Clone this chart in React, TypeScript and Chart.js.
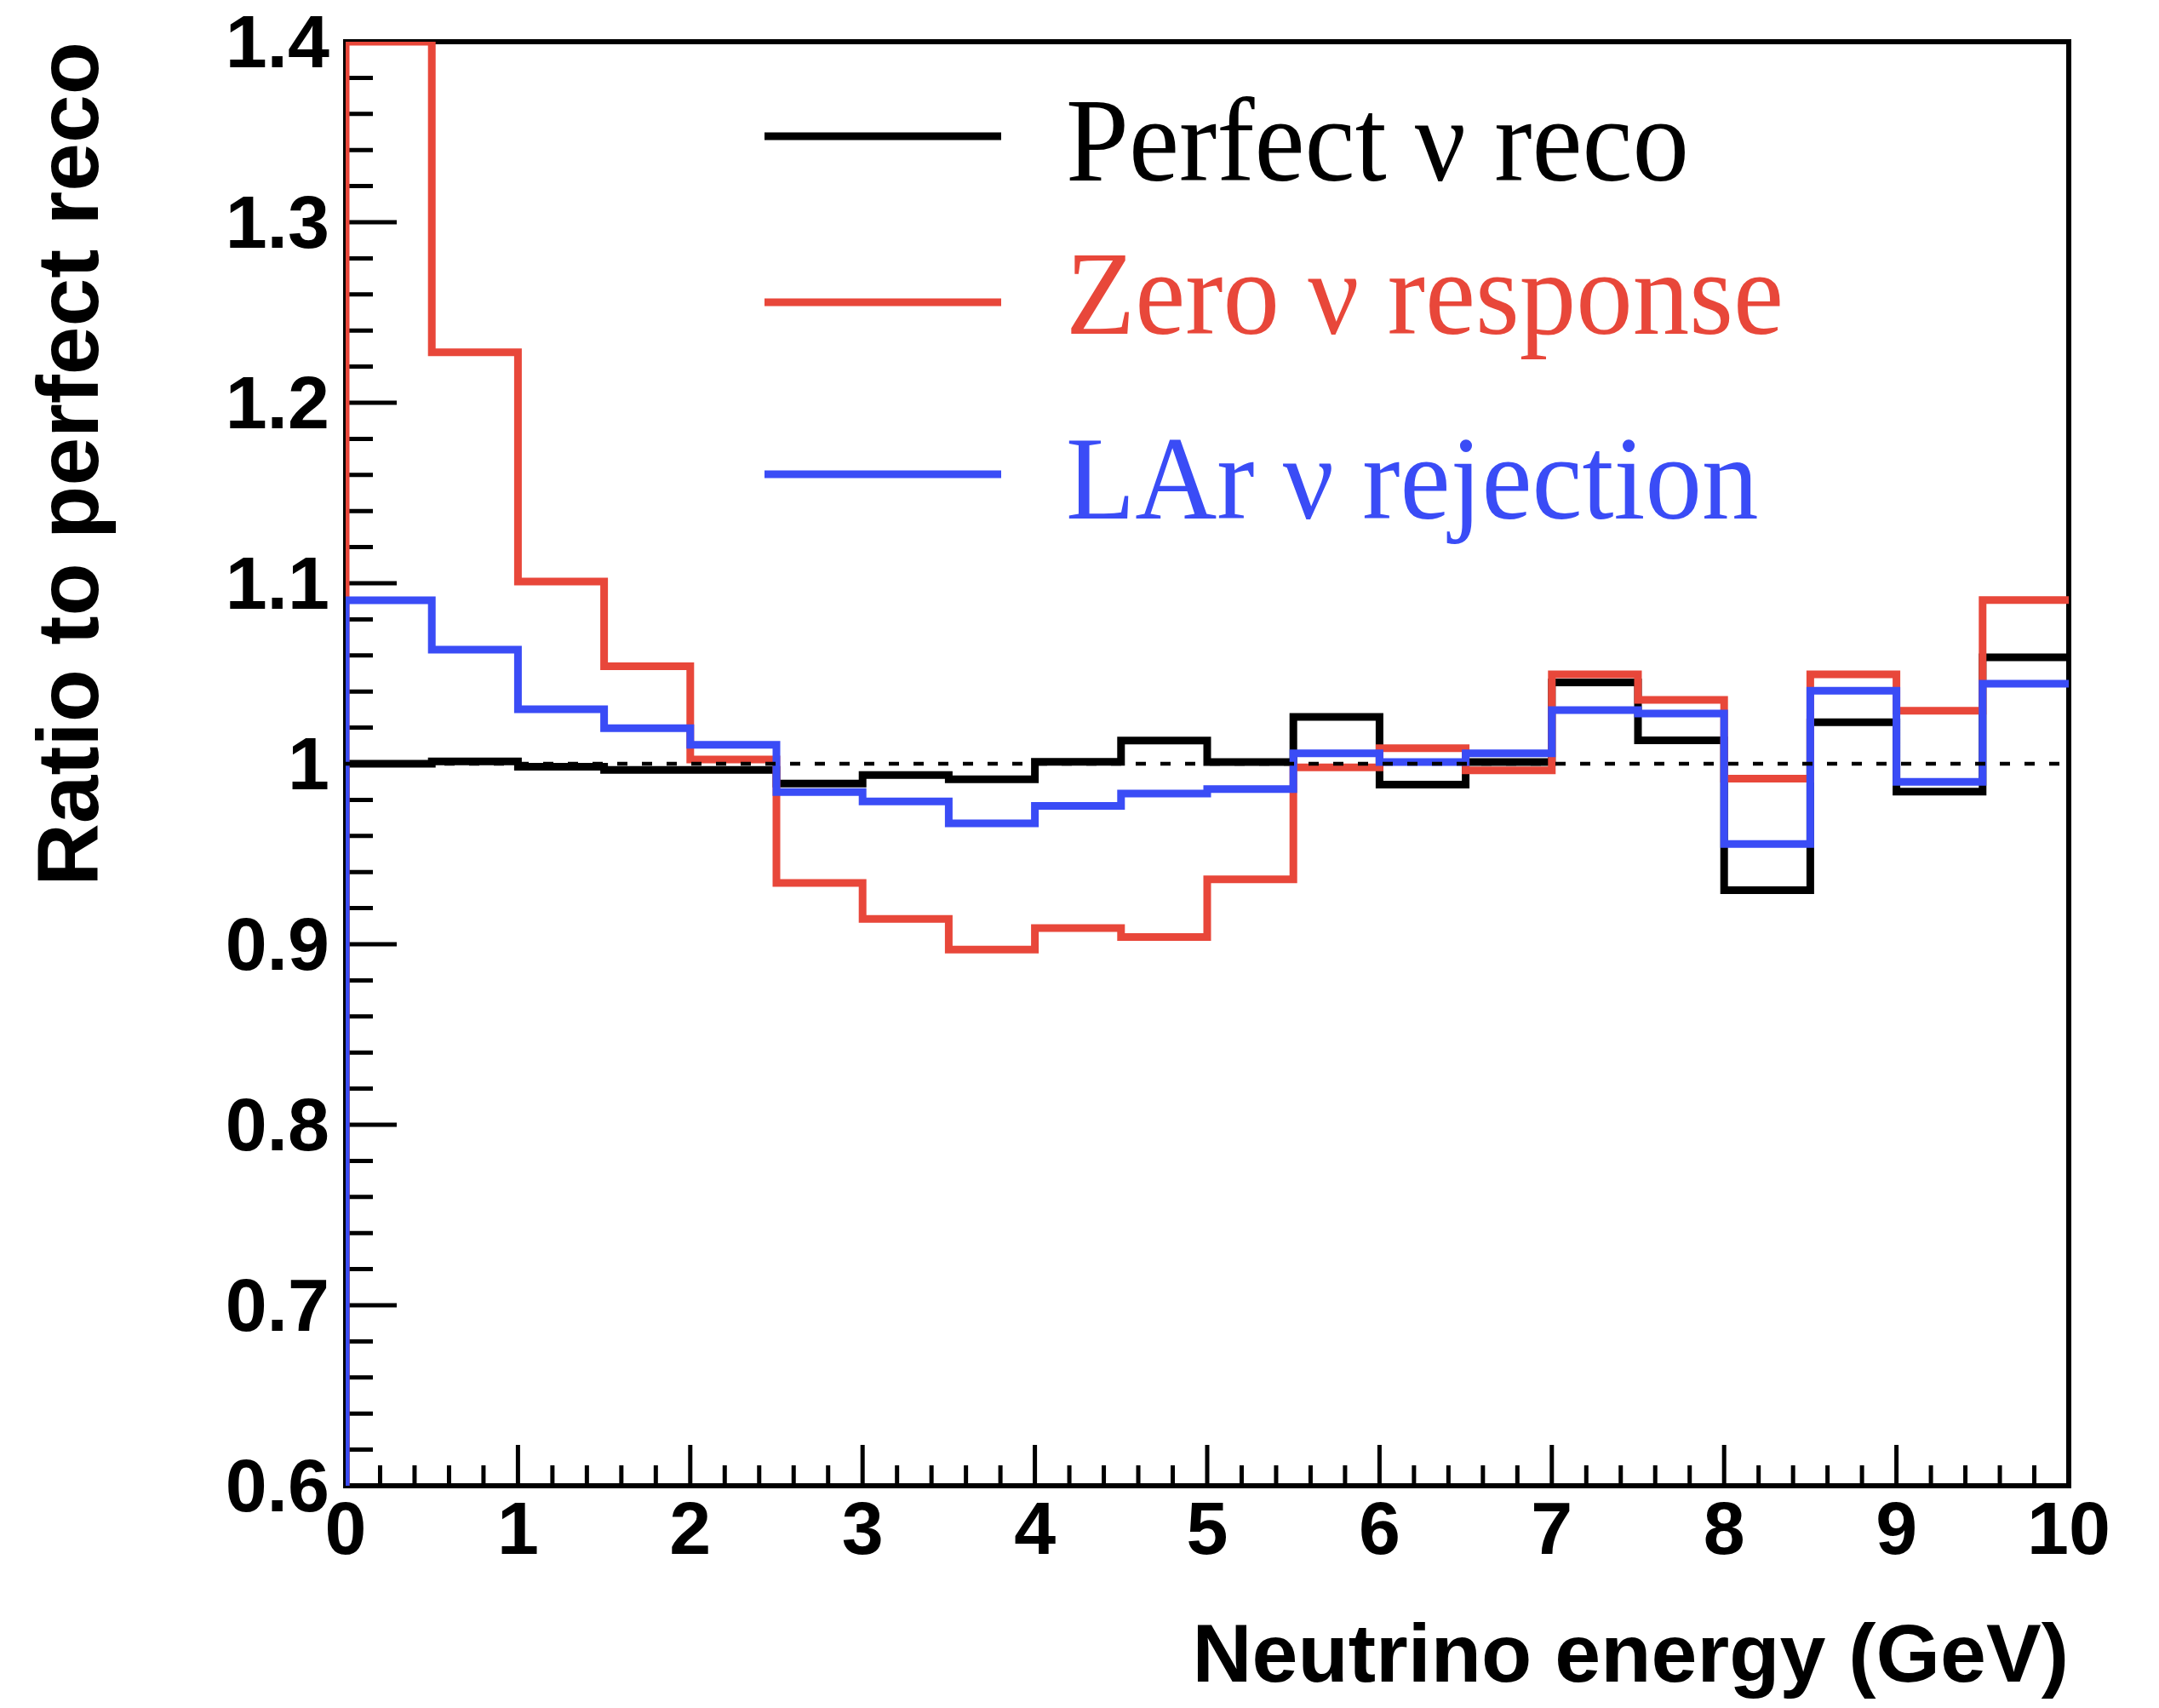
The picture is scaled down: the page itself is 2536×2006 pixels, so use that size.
import React, { useEffect, useRef } from "react";
import { Chart, registerables } from "chart.js";

Chart.register(...registerables);

// Energy binning (GeV): lower edges of the 0.5 GeV bins, plus the last upper edge
const binLowEdges = [0, 0.5, 1, 1.5, 2, 2.5, 3, 3.5, 4, 4.5, 5, 5.5, 6, 6.5, 7, 7.5, 8, 8.5, 9, 9.5];
const binUpperEdge = 10;

// Ratio to perfect reconstruction, one value per bin
const perfectReco = [
  1.0, 1.0013, 0.9984, 0.9966, 0.9966, 0.989, 0.9937, 0.9914, 1.0011, 1.0128,
  1.001, 1.026, 0.9885, 1.001, 1.045, 1.013, 0.93, 1.023, 0.9846, 1.059,
];
const zeroResponse = [
  1.4, 1.228, 1.101, 1.054, 1.0024, 0.934, 0.914, 0.897, 0.909, 0.904,
  0.936, 0.998, 1.0086, 0.9964, 1.0495, 1.0354, 0.9917, 1.0495, 1.0294, 1.0907,
];
const larRejection = [
  1.0906, 1.0632, 1.0302, 1.0197, 1.0105, 0.9843, 0.9791, 0.967, 0.9767, 0.9835,
  0.986, 1.0058, 1.001, 1.0058, 1.0297, 1.0278, 0.9555, 1.0404, 0.99, 1.0443,
];

const seriesNames = ["Perfect \u03bd reco", "Zero \u03bd response", "LAr \u03bd rejection"];
const seriesColors = ["#000000", "#e8473a", "#3a4cf6"];

// Axes
const xMin = 0;
const xMax = 10;
const yMin = 0.6;
const yMax = 1.4;
const referenceLevel = 1;
const xTickValues = [0, 1, 2, 3, 4, 5, 6, 7, 8, 9, 10];
const xTickLabels = ["0", "1", "2", "3", "4", "5", "6", "7", "8", "9", "10"];
const yTickValues = [0.6, 0.7, 0.8, 0.9, 1.0, 1.1, 1.2, 1.3, 1.4];
const yTickLabels = ["0.6", "0.7", "0.8", "0.9", "1", "1.1", "1.2", "1.3", "1.4"];
const xMinorStep = 0.2;
const yMinorStep = 0.02;

const xTitle = "Neutrino energy (GeV)";
const yTitle = "Ratio to perfect reco";

const SANS = "'Liberation Sans', Arial, Helvetica, sans-serif";
const SERIF = "'Liberation Serif', 'Times New Roman', serif";

// Histogram outline: rise from the axis floor, then one step per bin
function histPoints(values: number[]) {
  const pts = [{ x: binLowEdges[0], y: yMin }];
  values.forEach((v, i) => pts.push({ x: binLowEdges[i], y: v }));
  pts.push({ x: binUpperEdge, y: values[values.length - 1] });
  return pts;
}

// Frame with inward-pointing major and minor ticks
const frameTicks = {
  id: "frameTicks",
  beforeDatasetsDraw(chart: any) {
    const { ctx, chartArea: a, scales } = chart;
    const xs = scales.x;
    const ys = scales.y;
    ctx.save();
    ctx.strokeStyle = "#000";
    ctx.lineWidth = 5;
    ctx.lineCap = "butt";
    ctx.beginPath();
    const nx = Math.round((xMax - xMin) / xMinorStep);
    for (let i = 0; i <= nx; i++) {
      const v = xMin + i * xMinorStep;
      const px = xs.getPixelForValue(v);
      const major = i % 5 === 0;
      ctx.moveTo(px, a.bottom);
      ctx.lineTo(px, a.bottom - (major ? 48 : 24));
    }
    const ny = Math.round((yMax - yMin) / yMinorStep);
    for (let i = 0; i <= ny; i++) {
      const v = yMin + i * yMinorStep;
      const py = ys.getPixelForValue(v);
      const major = i % 5 === 0;
      ctx.moveTo(a.left, py);
      ctx.lineTo(a.left + (major ? 60 : 32), py);
    }
    ctx.stroke();
    ctx.lineWidth = 6;
    ctx.strokeRect(a.left, a.top, a.right - a.left, a.bottom - a.top);
    ctx.restore();
  },
};

// Legend box in the upper part of the frame
const histLegend = {
  id: "histLegend",
  afterDatasetsDraw(chart: any) {
    const { ctx, chartArea: a } = chart;
    const lineX0 = a.left + 492;
    const lineX1 = a.left + 770;
    const textX = a.left + 846;
    const lineY = [111, 306, 508];
    const baseY = [163, 343, 560];
    ctx.save();
    seriesNames.forEach((name, i) => {
      ctx.strokeStyle = seriesColors[i];
      ctx.lineWidth = 9;
      ctx.beginPath();
      ctx.moveTo(lineX0, a.top + lineY[i]);
      ctx.lineTo(lineX1, a.top + lineY[i]);
      ctx.stroke();
      ctx.save();
      ctx.translate(textX, a.top + baseY[i]);
      ctx.scale(0.95, 1);
      ctx.fillStyle = seriesColors[i];
      ctx.font = `140px ${SERIF}`;
      ctx.textAlign = "left";
      ctx.textBaseline = "alphabetic";
      ctx.fillText(name, 0, 0);
      ctx.restore();
    });
    ctx.restore();
  },
};

function clearScalePadding(scale: any) {
  scale.paddingTop = 0;
  scale.paddingBottom = 0;
  scale.paddingLeft = 0;
  scale.paddingRight = 0;
}

export default function App() {
  const canvasRef = useRef<HTMLCanvasElement | null>(null);

  useEffect(() => {
    document.body.style.margin = "0";
    const canvas = canvasRef.current;
    if (!canvas) return;

    const histDataset = (label: string, values: number[], color: string, order: number) => ({
      label,
      data: histPoints(values),
      borderColor: color,
      backgroundColor: color,
      borderWidth: 9,
      stepped: true,
      pointRadius: 0,
      pointHoverRadius: 0,
      fill: false,
      order,
    });

    const chart = new Chart(canvas, {
      type: "line",
      data: {
        datasets: [
          {
            label: "reference",
            data: [
              { x: xMin, y: referenceLevel },
              { x: xMax, y: referenceLevel },
            ],
            borderColor: "#000",
            borderWidth: 4.5,
            borderDash: [12, 17],
            pointRadius: 0,
            fill: false,
            order: 0,
          },
          histDataset(seriesNames[2], larRejection, seriesColors[2], 1),
          histDataset(seriesNames[1], zeroResponse, seriesColors[1], 2),
          histDataset(seriesNames[0], perfectReco, seriesColors[0], 3),
        ],
      },
      options: {
        responsive: false,
        devicePixelRatio: 1,
        animation: false,
        events: [],
        layout: { padding: { left: 0, top: 49, right: 106, bottom: 0 } },
        plugins: {
          legend: { display: false },
          tooltip: { enabled: false },
        },
        scales: {
          x: {
            type: "linear",
            min: xMin,
            max: xMax,
            grid: { display: false, drawTicks: false },
            border: { display: false },
            afterBuildTicks: (scale: any) => {
              scale.ticks = xTickValues.map((v) => ({ value: v }));
            },
            afterFit: (scale: any) => {
              scale.height = 261;
              clearScalePadding(scale);
            },
            ticks: {
              autoSkip: false,
              maxRotation: 0,
              padding: 3,
              color: "#000",
              font: { family: SANS, size: 88, weight: "bold" },
              callback: (_v: any, i: number) => xTickLabels[i],
            },
            title: {
              display: true,
              text: xTitle,
              align: "end",
              color: "#000",
              font: { family: SANS, size: 97, weight: "bold" },
              padding: { top: 0, bottom: 0 },
            },
          },
          y: {
            type: "linear",
            min: yMin,
            max: yMax,
            grid: { display: false, drawTicks: false },
            border: { display: false },
            afterBuildTicks: (scale: any) => {
              scale.ticks = yTickValues.map((v) => ({ value: v }));
            },
            afterFit: (scale: any) => {
              scale.width = 406;
              clearScalePadding(scale);
            },
            ticks: {
              autoSkip: false,
              padding: 19,
              labelOffset: 6,
              color: "#000",
              font: { family: SANS, size: 88, weight: "bold" },
              callback: (_v: any, i: number) => yTickLabels[i],
            },
            title: {
              display: true,
              text: yTitle,
              align: "end",
              color: "#000",
              font: { family: SANS, size: 102, weight: "bold" },
              padding: { top: 26, bottom: 0 },
            },
          },
        },
      },
      plugins: [frameTicks, histLegend],
    } as any);

    return () => chart.destroy();
  }, []);

  return (
    <canvas
      ref={canvasRef}
      width={2536}
      height={2006}
      style={{ display: "block", width: 2536, height: 2006 }}
    />
  );
}
